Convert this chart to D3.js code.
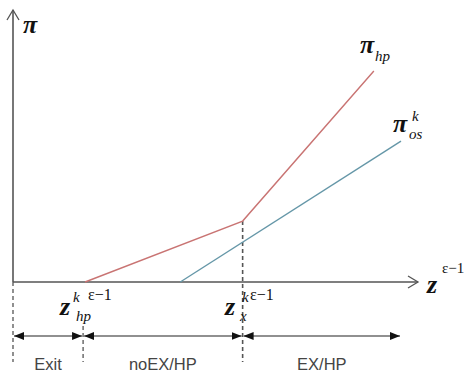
<!DOCTYPE html>
<html>
<head>
<meta charset="utf-8">
<script src="https://cdn.jsdelivr.net/npm/d3@7"></script>
<style>
  body { margin: 0; background: #fff; }
  svg { display: block; }
  .math { font-family: "Liberation Serif", "DejaVu Serif", serif; fill: #111; }
  .region { font-family: "Liberation Sans", Arial, sans-serif; font-size: 16.5px; fill: #444; }
</style>
</head>
<body>
<div id="chart"></div>
<script>
// profit lines (x and y in arbitrary units, 0..100)
const hpX = [17.8, 56.7, 89.1];
const hpY = [0, 22.4, 77.6];
const osX = [41.3, 95.8];
const osY = [0, 51.8];

// cut-offs and regions along the x axis
const cutoffs = [0, 17.8, 56.7, 95.8];
const regions = ["Exit", "noEX/HP", "EX/HP"];

const width = 466, height = 375;
const svg = d3.select("#chart").append("svg")
  .attr("width", width)
  .attr("height", height);

const x = d3.scaleLinear().domain([0, 100]).range([13, 418]);
const y = d3.scaleLinear().domain([0, 100]).range([282, 10]);

const defs = svg.append("defs");
defs.append("marker")
  .attr("id", "tri")
  .attr("viewBox", "0 0 10 10")
  .attr("refX", 10).attr("refY", 5)
  .attr("markerWidth", 10).attr("markerHeight", 10)
  .attr("markerUnits", "userSpaceOnUse")
  .attr("orient", "auto-start-reverse")
  .append("path")
  .attr("d", "M0,1 L10,5 L0,9 Z")
  .attr("fill", "#111");

const axisColor = "#555";

// axes
svg.append("line")
  .attr("x1", x(0)).attr("y1", y(0))
  .attr("x2", x(100)).attr("y2", y(0))
  .attr("stroke", axisColor).attr("stroke-width", 1.6);
svg.append("path")
  .attr("d", `M${x(100) - 10},${y(0) - 6} L${x(100)},${y(0)} L${x(100) - 10},${y(0) + 6}`)
  .attr("fill", "none").attr("stroke", axisColor).attr("stroke-width", 1.3);

svg.append("line")
  .attr("x1", x(0)).attr("y1", y(0))
  .attr("x2", x(0)).attr("y2", y(100))
  .attr("stroke", axisColor).attr("stroke-width", 1.6);
svg.append("path")
  .attr("d", `M${x(0) - 6},${y(100) + 10} L${x(0)},${y(100)} L${x(0) + 6},${y(100) + 10}`)
  .attr("fill", "none").attr("stroke", axisColor).attr("stroke-width", 1.3);

// dashed cut-off lines
const dashBottom = 362;
svg.append("line")
  .attr("x1", x(cutoffs[0])).attr("x2", x(cutoffs[0]))
  .attr("y1", y(0)).attr("y2", dashBottom)
  .attr("stroke", axisColor).attr("stroke-width", 1.3).attr("stroke-dasharray", "4,3");
svg.append("line")
  .attr("x1", x(cutoffs[1]) - 2).attr("x2", x(cutoffs[1]) - 2)
  .attr("y1", 326).attr("y2", dashBottom)
  .attr("stroke", axisColor).attr("stroke-width", 1.3).attr("stroke-dasharray", "4,3");
svg.append("line")
  .attr("x1", x(cutoffs[2])).attr("x2", x(cutoffs[2]))
  .attr("y1", y(hpY[1])).attr("y2", dashBottom)
  .attr("stroke", axisColor).attr("stroke-width", 1.6).attr("stroke-dasharray", "4,3");

// profit lines
const line = d3.line().x(d => x(d[0])).y(d => y(d[1]));
svg.append("path")
  .attr("d", line(d3.zip(hpX, hpY)))
  .attr("fill", "none").attr("stroke", "#c97473").attr("stroke-width", 1.4);
svg.append("path")
  .attr("d", line(d3.zip(osX, osY)))
  .attr("fill", "none").attr("stroke", "#6597a8").attr("stroke-width", 1.4);

// region double arrows + labels
const arrowY = 336;
regions.forEach((r, i) => {
  const a = x(cutoffs[i]) - (i === 1 ? 2 : 0);
  const b = x(cutoffs[i + 1]) - (i === 0 ? 2 : 0);
  svg.append("line")
    .attr("x1", a + 1).attr("x2", b - 1)
    .attr("y1", arrowY).attr("y2", arrowY)
    .attr("stroke", "#222").attr("stroke-width", 1.2)
    .attr("marker-start", "url(#tri)")
    .attr("marker-end", "url(#tri)");
  svg.append("text")
    .attr("class", "region")
    .attr("x", (a + b) / 2)
    .attr("y", 370)
    .attr("text-anchor", "middle")
    .text(r);
});

// math labels
function mathText(px, py, size, txt, opts = {}) {
  return svg.append("text")
    .attr("class", "math")
    .attr("x", px).attr("y", py)
    .attr("font-size", size)
    .attr("font-style", opts.italic === false ? "normal" : "italic")
    .attr("font-weight", opts.bold ? "bold" : "normal")
    .text(txt);
}

// y axis label
mathText(23, 33, 26, "π", { bold: true });

// pi_hp
mathText(360, 53, 26, "π", { bold: true });
mathText(375, 61, 15, "hp");

// pi_os^k
mathText(393, 132, 26, "π", { bold: true });
mathText(409, 139, 15, "os");
mathText(412, 121, 15, "k");

// x axis label z^(eps-1)
mathText(427, 293, 26, "z", { bold: true });
mathText(442, 273, 15, "ε−1", { italic: false });

// z_hp^k eps-1
mathText(60, 315, 26, "z", { bold: true });
mathText(73, 302, 15, "k");
mathText(88, 300, 16, "ε−1", { italic: false });
mathText(76, 321, 15, "hp");

// z_x^k eps-1
mathText(225, 315, 26, "z", { bold: true });
mathText(242, 302, 15, "k");
mathText(250, 300, 16, "ε−1", { italic: false });
mathText(240, 321, 15, "x");
</script>
</body>
</html>
